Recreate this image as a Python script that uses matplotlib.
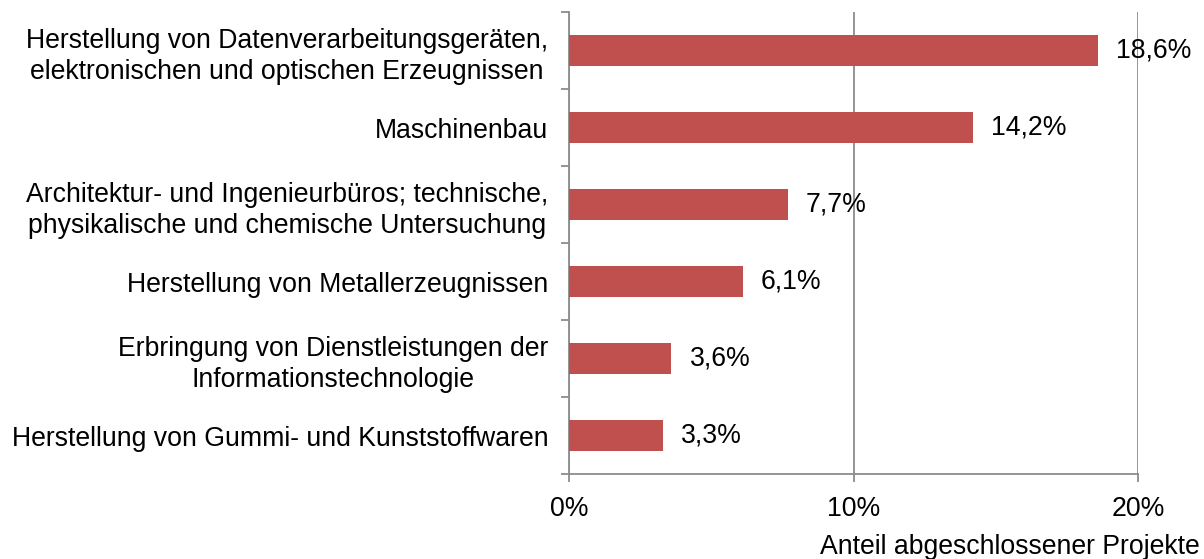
import matplotlib
matplotlib.use("Agg")
import matplotlib.pyplot as plt
from matplotlib.ticker import FixedLocator

plt.rcParams['font.family'] = ['Liberation Sans', 'DejaVu Sans']

categories = [
    "Herstellung von Datenverarbeitungsgeräten,\nelektronischen und optischen Erzeugnissen",
    "Maschinenbau",
    "Architektur- und Ingenieurbüros; technische,\nphysikalische und chemische Untersuchung",
    "Herstellung von Metallerzeugnissen",
    "Erbringung von Dienstleistungen der\nInformationstechnologie",
    "Herstellung von Gummi- und Kunststoffwaren",
]
values = [18.6, 14.2, 7.7, 6.1, 3.6, 3.3]
value_labels = ["18,6%", "14,2%", "7,7%", "6,1%", "3,6%", "3,3%"]
x_ticks = [0, 10, 20]
x_ticklabels = ["0%", "10%", "20%"]

BAR_COLOR = "#C0504D"
AXIS_GRAY = "#8C8C8C"
FS = 19.2

fig = plt.figure(figsize=(12.04, 5.59), dpi=100)
ax = fig.add_axes([569 / 1204, 1 - 474 / 559, (1138 - 569) / 1204, (474 - 12) / 559])

n = len(categories)
ypos = [n - 1 - i for i in range(n)]
ax.barh(ypos, values, height=0.41, color=BAR_COLOR, zorder=3)

for y, v, lab in zip(ypos, values, value_labels):
    ax.annotate(lab, xy=(v, y), xytext=(13, 0), textcoords="offset points",
                va="center", ha="left", fontsize=FS, color="black")

ax.set_xlim(0, 20)
ax.set_ylim(-0.5, n - 0.5)
ax.set_xticks(x_ticks)
ax.set_xticklabels(x_ticklabels, fontsize=FS)
ax.set_yticks(ypos)
ax.set_yticklabels(categories, fontsize=FS, linespacing=1.28, multialignment="center")
ax.yaxis.set_minor_locator(FixedLocator([i - 0.5 for i in range(n + 1)]))

ax.tick_params(axis="y", which="major", length=0, pad=15)
ax.tick_params(axis="y", which="minor", length=6, width=1.3, color=AXIS_GRAY)
ax.tick_params(axis="x", length=6, width=1.3, color=AXIS_GRAY, pad=10)

ax.grid(axis="x", color=AXIS_GRAY, linewidth=1.3, zorder=0)
for side in ["top", "right"]:
    ax.spines[side].set_visible(False)
for side in ["left", "bottom"]:
    ax.spines[side].set_color(AXIS_GRAY)
    ax.spines[side].set_linewidth(1.3)

fig.text(1200 / 1204, 1 - 547 / 559, "Anteil abgeschlossener Projekte",
         ha="right", va="center", fontsize=FS)

fig.savefig("out.png", dpi=100)
